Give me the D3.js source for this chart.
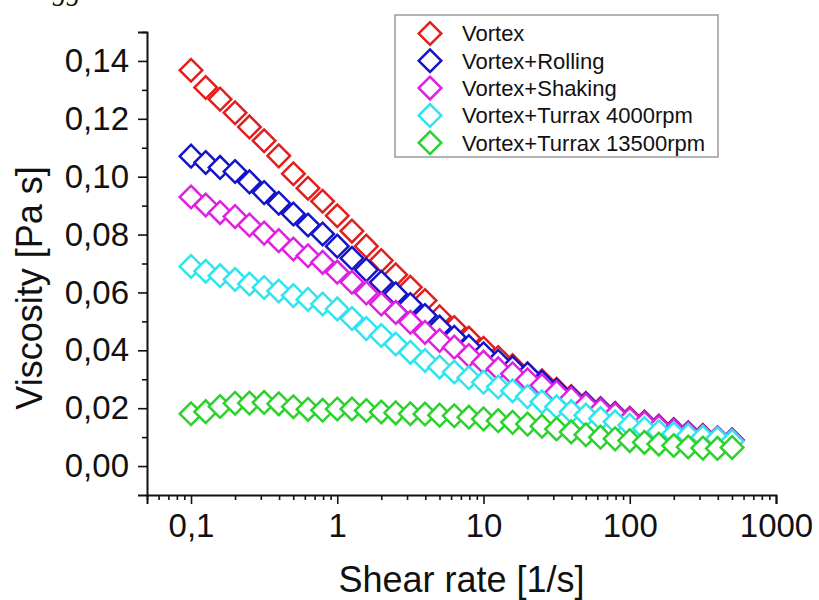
<html>
  <head>
    <meta charset="utf-8" />
    <title>Viscosity vs shear rate</title>
    <script src="https://d3js.org/d3.v7.min.js"></script>
    <style>
      body {
        margin: 0;
        background: #fff;
      }
      text {
        font-family: "Liberation Sans", Arial, sans-serif;
        fill: #111;
      }
      .domain {
        stroke: #111;
        stroke-width: 2px;
      }
      .tick line {
        stroke: #111;
        stroke-width: 1.6px;
      }
    </style>
  </head>
  <body>
    <svg id="chart">
      <g id="shapes"></g>
      <g id="x"></g>
      <g id="xMinor"></g>
      <g id="y"></g>
      <g id="yMinor"></g>
      <g id="legend"></g>
    </svg>

    <script>
      var width = 819;
      var height = 600;

      // shear rate [1/s], 10 points per decade
      var shearRate = [0.1, 0.126, 0.158, 0.2, 0.251, 0.316, 0.398, 0.501, 0.631, 0.794,
        1, 1.26, 1.58, 2, 2.51, 3.16, 3.98, 5.01, 6.31, 7.94,
        10, 12.6, 15.8, 20, 25.1, 31.6, 39.8, 50.1, 63.1, 79.4,
        100, 126, 158, 200, 251, 316, 398, 501];

      var seriesNames = ["Vortex", "Vortex+Rolling", "Vortex+Shaking",
        "Vortex+Turrax 4000rpm", "Vortex+Turrax 13500rpm"];
      var seriesColors = ["#e31e1e", "#1414c8", "#e020e0", "#30e4ee", "#2cd22c"];

      var vortex = [0.1368, 0.1308, 0.1268, 0.1221, 0.1172, 0.1124, 0.1072, 0.1010, 0.0960, 0.0915,
        0.0865, 0.0812, 0.0760, 0.0710, 0.0661, 0.0618, 0.0572, 0.0516, 0.0479, 0.0442,
        0.0407, 0.0375, 0.0347, 0.0319, 0.0295, 0.0265, 0.0240, 0.0217, 0.0199, 0.0182,
        0.0165, 0.0152, 0.0138, 0.0126, 0.0115, 0.0106, 0.0098, 0.0090];
      var rolling = [0.1071, 0.1049, 0.1032, 0.1018, 0.0982, 0.0945, 0.0908, 0.0871, 0.0833, 0.0802,
        0.0760, 0.0718, 0.0678, 0.0635, 0.0595, 0.0558, 0.0520, 0.0480, 0.0445, 0.0413,
        0.0388, 0.0362, 0.0340, 0.0318, 0.0290, 0.0262, 0.0237, 0.0214, 0.0196, 0.0180,
        0.0163, 0.0150, 0.0136, 0.0124, 0.0113, 0.0104, 0.0097, 0.0090];
      var shaking = [0.0930, 0.0902, 0.0876, 0.0862, 0.0833, 0.0805, 0.0779, 0.0750, 0.0727, 0.0704,
        0.0670, 0.0635, 0.0598, 0.0560, 0.0531, 0.0497, 0.0462, 0.0434, 0.0411, 0.0382,
        0.0359, 0.0336, 0.0319, 0.0298, 0.0278, 0.0255, 0.0233, 0.0211, 0.0194, 0.0178,
        0.0162, 0.0149, 0.0135, 0.0123, 0.0112, 0.0103, 0.0096, 0.0089];
      var turrax4000 = [0.0690, 0.0673, 0.0658, 0.0645, 0.0629, 0.0617, 0.0605, 0.0589, 0.0576, 0.0560,
        0.0543, 0.0510, 0.0475, 0.0451, 0.0422, 0.0393, 0.0365, 0.0342, 0.0325, 0.0305,
        0.0290, 0.0273, 0.0260, 0.0240, 0.0222, 0.0205, 0.0188, 0.0176, 0.0164, 0.0153,
        0.0141, 0.0130, 0.0119, 0.0112, 0.0106, 0.0100, 0.0095, 0.0086];
      var turrax13500 = [0.0181, 0.0188, 0.0206, 0.0217, 0.0218, 0.0220, 0.0215, 0.0205, 0.0196, 0.0193,
        0.0197, 0.0197, 0.0192, 0.0187, 0.0184, 0.0181, 0.0180, 0.0176, 0.0174, 0.0169,
        0.0163, 0.0157, 0.0151, 0.0145, 0.0138, 0.0128, 0.0118, 0.0108, 0.0100, 0.0094,
        0.0088, 0.0082, 0.0076, 0.0071, 0.0066, 0.0062, 0.0061, 0.0064];

      var seriesValues = [vortex, rolling, shaking, turrax4000, turrax13500];

      var yMajorTicks = [0, 0.02, 0.04, 0.06, 0.08, 0.10, 0.12, 0.14];
      var yMinorTicks = [0.01, 0.03, 0.05, 0.07, 0.09, 0.11, 0.13, 0.15];
      var xMajorTicks = [0.1, 1, 10, 100, 1000];

      var margin = { top: 32, right: 43, bottom: 105, left: 147 };

      var svg = d3.select("#chart")
        .attr("width", width)
        .attr("height", height);

      var x = d3.scaleLog()
        .domain([0.05, 1000])
        .range([margin.left, width - margin.right]);

      var y = d3.scaleLinear()
        .domain([-0.01, 0.15])
        .range([height - margin.bottom, margin.top]);

      var comma = function(fmt) {
        return function(d) { return d3.format(fmt)(d).replace(".", ","); };
      };

      // cropped caption line from the page above the figure
      svg.append("text")
        .attr("x", 14)
        .attr("y", 0)
        .style("font-family", "'Liberation Serif', serif")
        .style("font-style", "italic")
        .style("font-size", "28px")
        .text("exaggerated.");

      // axes
      var xAxis = d3.axisBottom(x)
        .tickValues(xMajorTicks)
        .tickSize(9)
        .tickPadding(10)
        .tickFormat(function(d) { return d < 1 ? comma(".1f")(d) : d3.format("d")(d); });

      svg.select("#x")
        .attr("transform", "translate(0, " + y.range()[0] + ")")
        .call(xAxis)
        .call(function(g) { g.selectAll("text").style("font-size", "33px").attr("fill", "#111"); });

      var xMinor = [];
      [0.01, 0.1, 1, 10, 100].forEach(function(dec) {
        d3.range(2, 10).forEach(function(m) {
          var v = dec * m;
          if (v >= 0.05 && v < 1000) xMinor.push(v);
        });
      });

      svg.select("#xMinor")
        .attr("transform", "translate(0, " + y.range()[0] + ")")
        .call(d3.axisBottom(x).tickValues(xMinor).tickSize(5).tickFormat(""))
        .call(function(g) { g.select(".domain").remove(); });

      var yAxis = d3.axisLeft(y)
        .tickValues(yMajorTicks)
        .tickSize(9)
        .tickPadding(9)
        .tickFormat(comma(".2f"));

      svg.select("#y")
        .attr("transform", "translate(" + x.range()[0] + ", 0)")
        .call(yAxis)
        .call(function(g) { g.selectAll("text").style("font-size", "33px").attr("fill", "#111"); });

      svg.select("#yMinor")
        .attr("transform", "translate(" + x.range()[0] + ", 0)")
        .call(d3.axisLeft(y).tickValues(yMinorTicks).tickSize(5).tickFormat(""))
        .call(function(g) { g.select(".domain").remove(); });

      // axis titles
      svg.append("text")
        .attr("x", (x.range()[0] + x.range()[1]) / 2)
        .attr("y", 592)
        .attr("text-anchor", "middle")
        .style("font-size", "36px")
        .text("Shear rate [1/s]");

      svg.append("text")
        .attr("transform", "translate(42, 288) rotate(-90)")
        .attr("text-anchor", "middle")
        .style("font-size", "36px")
        .text("Viscosity [Pa s]");

      // markers
      var diamond = d3.symbol().type(d3.symbolSquare).size(255);

      seriesValues.forEach(function(vals, s) {
        svg.select("#shapes").append("g")
          .selectAll("path")
          .data(vals)
          .enter()
          .append("path")
          .attr("d", diamond)
          .attr("transform", function(d, i) {
            return "translate(" + x(shearRate[i]) + "," + y(d) + ") rotate(45)";
          })
          .attr("fill", "#fff")
          .attr("stroke", seriesColors[s])
          .attr("stroke-width", 2.5);
      });

      // legend
      var legend = svg.select("#legend");
      legend.append("rect")
        .attr("x", 395)
        .attr("y", 15)
        .attr("width", 323)
        .attr("height", 142)
        .attr("fill", "#fff")
        .attr("stroke", "#9a9a9a")
        .attr("stroke-width", 1.5);

      var rows = legend.selectAll(".row")
        .data(seriesNames)
        .enter()
        .append("g")
        .attr("class", "row")
        .attr("transform", function(d, i) { return "translate(430, " + (33.5 + i * 27.3) + ")"; });

      rows.append("path")
        .attr("d", diamond)
        .attr("transform", "rotate(45)")
        .attr("fill", "#fff")
        .attr("stroke", function(d, i) { return seriesColors[i]; })
        .attr("stroke-width", 2.5);

      rows.append("text")
        .attr("x", 32)
        .attr("dy", "0.36em")
        .style("font-size", "22px")
        .text(function(d) { return d; });
    </script>
  </body>
</html>
